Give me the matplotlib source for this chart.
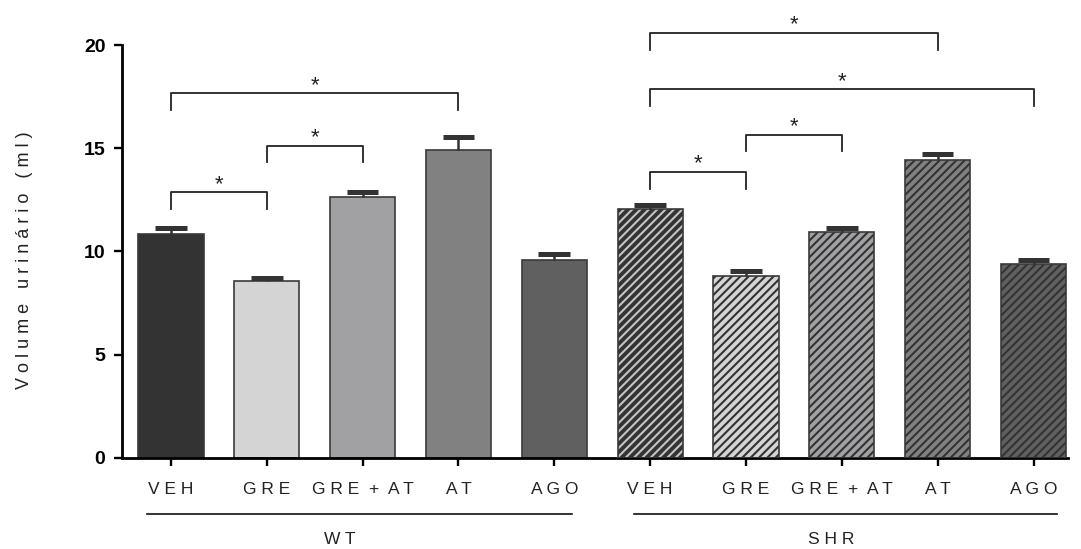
import matplotlib
matplotlib.use("Agg")
import matplotlib.pyplot as plt
import numpy as np

plt.rcParams["font.family"] = ["Liberation Sans", "DejaVu Sans"]
plt.rcParams["hatch.linewidth"] = 1.5

# data
groups = ["W T", "S H R"]
treatments = ["V E H", "G R E", "G R E  +  A T", "A T", "A G O"]
wt_mean = [10.85, 8.57, 12.65, 14.92, 9.59]
wt_sem = [0.27, 0.15, 0.23, 0.61, 0.29]
shr_mean = [12.04, 8.83, 10.93, 14.43, 9.38]
shr_sem = [0.21, 0.24, 0.22, 0.28, 0.22]

# significance brackets: (bar a, bar b, height)
brackets = [
    (0, 1, 12.87), (1, 2, 15.13), (0, 3, 17.66),
    (5, 8, 20.58), (5, 9, 17.85), (6, 7, 15.66), (5, 6, 13.85),
]

face_colors = ["#333333", "#d4d4d4", "#a1a1a4", "#818181", "#606060"]
shr_hatch_colors = ["#c4c4c4", "#333333", "#333333", "#333333", "#333333"]
edge = "#3a3a3a"

n = len(treatments)
x_wt = np.arange(n)
x_shr = np.arange(n) + n
width = 0.68

fig = plt.figure(figsize=(10.81, 5.49), dpi=100)
ax = fig.add_axes([0.1129, 0.1658, 0.988 - 0.1129, 1 - 0.1658])

ax.bar(x_wt, wt_mean, width, color=face_colors, edgecolor=edge, linewidth=1.2, zorder=2)
for xi, m, fc, hc in zip(x_shr, shr_mean, face_colors, shr_hatch_colors):
    ax.bar(xi, m, width, color=fc, edgecolor=hc, hatch="////", linewidth=0, zorder=2)
    ax.bar(xi, m, width, facecolor="none", edgecolor=edge, linewidth=1.2, zorder=3)

# upper-only error bars
x_all = np.concatenate([x_wt, x_shr])
means = np.array(wt_mean + shr_mean)
sems = np.array(wt_sem + shr_sem)
ax.vlines(x_all, means, means + sems, color="#333333", linewidth=1.8, zorder=4)
ax.hlines(means + sems, x_all - 0.165, x_all + 0.165, color="#333333", linewidth=3.6, zorder=4)

# brackets with stars
leg = 0.8
for a, b, h in brackets:
    ax.plot([a, a, b, b], [h - leg, h, h, h - leg], color="#222222", linewidth=1.3,
            clip_on=False, zorder=5)
    ax.text((a + b) / 2, h + 0.12, "*", ha="center", va="baseline", fontsize=16,
            color="#222222")

ax.set_xlim(-0.51, 9.36)
ax.set_ylim(0, 22.18)
ax.spines["top"].set_visible(False)
ax.spines["right"].set_visible(False)
ax.spines["left"].set_bounds(0, 20)
ax.spines["left"].set_linewidth(2.0)
ax.spines["bottom"].set_linewidth(2.0)

ax.set_yticks([0, 5, 10, 15, 20])
ax.tick_params(axis="y", length=6, width=1.7, labelsize=14, pad=6)
for lab in ax.get_yticklabels():
    lab.set_fontweight("bold")
ax.set_xticks(x_all)
ax.set_xticklabels(treatments * 2, fontsize=12.5, color="#222222")
ax.tick_params(axis="x", length=6, width=1.7, pad=11)

ax.set_ylabel("V o l u m e   u r i n á r i o   ( m l )", fontsize=13, color="#222222")
ax.yaxis.set_label_coords(-0.094, 0.432)

# group underlines and labels
trans = ax.get_xaxis_transform()
group_lines = [(-0.25, 4.18), (4.83, 9.25)]
group_label_x = [1.76, 6.89]
for (x0, x1), lx, name in zip(group_lines, group_label_x, groups):
    ax.plot([x0, x1], [-0.122, -0.122], color="#111111", linewidth=1.2,
            transform=trans, clip_on=False)
    ax.text(lx, -0.178, name, ha="center", va="center", fontsize=12.5,
            color="#222222", transform=trans)

fig.savefig("out.png", dpi=100)
